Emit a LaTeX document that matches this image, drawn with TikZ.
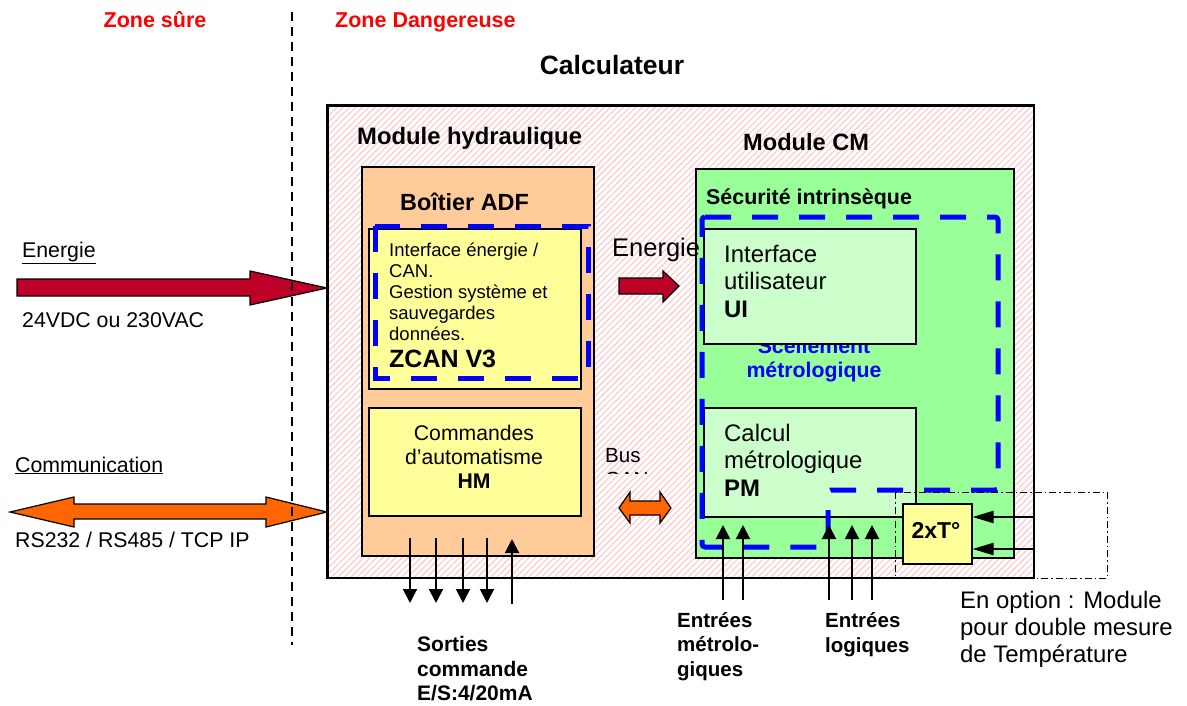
\documentclass[tikz,border=0pt]{standalone}
\usepackage{fontspec}
\setmainfont{Liberation Sans}
\usetikzlibrary{arrows.meta,patterns.meta}
\definecolor{zred}{RGB}{255,0,0}
\definecolor{adf}{RGB}{255,204,153}
\definecolor{ylw}{RGB}{255,255,153}
\definecolor{grn}{RGB}{153,255,153}
\definecolor{lgrn}{RGB}{204,255,204}
\definecolor{blu}{RGB}{0,0,255}
\definecolor{dred}{RGB}{190,0,40}
\definecolor{orng}{RGB}{255,102,0}
\definecolor{hatch}{RGB}{255,200,200}
\newcommand\fsz[1]{\fontsize{#1}{#1}\selectfont}
\begin{document}
\begin{tikzpicture}[x=1pt,y=-1pt,
  txt/.style={inner sep=0pt,anchor=base west},
  ctxt/.style={inner sep=0pt,anchor=base},
  box/.style={draw=black,line width=1.5pt,inner sep=0pt,anchor=north west},
  seal/.style={draw=blu,line width=5pt,dash pattern=on 26pt off 21pt},
  blockarrow/.style={draw=black,line width=1.2pt,line join=miter},
  arr/.style={line width=2pt,-{Triangle[length=14pt,width=14pt]}},
  tarr/.style={line width=2pt,-{Triangle[length=21pt,width=12pt]}},
]
\useasboundingbox (0,0) rectangle (1187,705);
\fill[white] (0,0) rectangle (1187,705);

% zone labels
\node[ctxt,font=\fsz{21.5}\bfseries,text=zred] (zs) at (155,27) {Zone sûre};
\node[txt,font=\fsz{21.5}\bfseries,text=zred] (zd) at (335,27) {Zone Dangereuse};
\node[ctxt,font=\fsz{26.5}\bfseries] (ct) at (612,74) {Calculateur};

% calculateur box
\node[box,line width=2pt,pattern={Lines[angle=45,distance=4.5pt,line width=1.1pt]},pattern color=hatch,
      minimum width=706pt,minimum height=472pt] (calc) at (327,105) {};
\draw[line width=2pt] (calc.north west) rectangle (calc.south east);

\node[txt,font=\fsz{23.8}\bfseries] (mh) at (357,144) {Module hydraulique};
\node[txt,font=\fsz{23.6}\bfseries] (mcm) at (743,150) {Module CM};

% ADF
\node[box,fill=adf,minimum width=232pt,minimum height=389pt] (adfbox) at (361,166) {};
\node[txt,font=\fsz{23.4}\bfseries] (adft) at (400,210) {Boîtier ADF};
\node[box,fill=ylw,minimum width=212pt,minimum height=160pt] (zcan) at (368,228) {};
\node[txt,font=\fsz{18.5}] (z1) at (389,256) {Interface énergie /};
\node[txt,font=\fsz{18.5}] (z2) at (389,277) {CAN.};
\node[txt,font=\fsz{18.5}] (z3) at (389,298) {Gestion système et};
\node[txt,font=\fsz{18.5}] (z4) at (389,319) {sauvegardes};
\node[txt,font=\fsz{18.5}] (z5) at (389,340) {données.};
\node[txt,font=\fsz{25}\bfseries] (z6) at (389,367) {ZCAN V3};
\draw[seal] (375,226) rectangle (588,378);

\node[box,fill=ylw,minimum width=212pt,minimum height=108pt] (hm) at (368,407) {};
\node[ctxt,font=\fsz{21.2}] (h1) at (474,440) {Commandes};
\node[ctxt,font=\fsz{21.2}] (h2) at (474,464) {d’automatisme};
\node[ctxt,font=\fsz{21.2}\bfseries] (h3) at (474,488) {HM};

% CM
\node[box,fill=grn,minimum width=318pt,minimum height=389pt] (cm) at (695,168) {};
\node[txt,font=\fsz{21.4}\bfseries] (si) at (706,204) {Sécurité intrinsèque};
\node[ctxt,font=\fsz{21.3}\bfseries,text=blu] (sc1) at (814,353) {Scellement};
\node[ctxt,font=\fsz{21.3}\bfseries,text=blu] (sc2) at (814,377) {métrologique};
\node[box,fill=lgrn,minimum width=212pt,minimum height=115pt] (ui) at (703,228) {};
\node[txt,font=\fsz{23.9}] (u1) at (724,262) {Interface};
\node[txt,font=\fsz{23.9}] (u2) at (724,289) {utilisateur};
\node[txt,font=\fsz{23.9}\bfseries] (u3) at (724,317) {UI};
\node[box,fill=lgrn,minimum width=212pt,minimum height=109pt] (pm) at (703,407) {};
\node[txt,font=\fsz{23.9}] (p1) at (724,441) {Calcul};
\node[txt,font=\fsz{23.9}] (p2) at (724,468) {métrologique};
\node[txt,font=\fsz{23.9}\bfseries] (p3) at (724,496) {PM};
\draw[seal,rounded corners=3pt] (702,217) -- (998,217) -- (998,490) -- (828,490) -- (828,547) -- (702,547) -- cycle;

% option temperature
\draw[line width=1pt,dash pattern=on 7pt off 3pt on 1.5pt off 3pt] (895,492) rectangle (1107,578);
\node[box,fill=ylw,minimum width=69pt,minimum height=60pt] (tt) at (902,503) {};
\node[ctxt,font=\fsz{23}\bfseries] (ttl) at (936,538) {2xT°};
\coordinate (ta) at (1035,517);
\coordinate (tb) at (1035,549);
\draw[tarr] (ta) -- (tt.east |- ta);
\draw[tarr] (tb) -- (tt.east |- tb);
\node[txt,font=\fsz{23.9}] (o1) at (960,608) {En option : Module};
\node[txt,font=\fsz{23.9}] (o2) at (960,635) {pour double mesure};
\node[txt,font=\fsz{23.9}] (o3) at (960,662) {de Température};

% middle energy arrow
\node[txt,font=\fsz{25.5}] (en2) at (612,256) {Energie};
\draw[blockarrow,fill=dred] (619,278) -- (663,278) -- (663,271) -- (679,286) -- (663,302) -- (663,294) -- (619,294) -- cycle;

% bus CAN
\begin{scope}
\clip (595,430) rectangle (665,473);
\node[txt,font=\fsz{20.5}] (bus) at (605,462) {Bus};
\node[txt,font=\fsz{20.5}] (can) at (605,486) {CAN};
\end{scope}
\draw[blockarrow,fill=orng] (619,508) -- (630,492) -- (630,501) -- (660,501) -- (660,492) -- (671,508) -- (660,523) -- (660,515) -- (630,515) -- (630,523) -- cycle;

% left side
\node[txt,font=\fsz{21.3}] (en1) at (22,257) {\underline{Energie}};
\node[txt,font=\fsz{21.3}] (v1) at (22,327) {24VDC ou 230VAC};
\draw[blockarrow,fill=dred] (17,279) -- (250,279) -- (250,271) -- (327,288) -- (250,305) -- (250,296) -- (17,296) -- cycle;
\node[txt,font=\fsz{21.3}] (com) at (15,472) {\underline{Communication}};
\node[txt,font=\fsz{21.3}] (rs) at (15,547) {RS232 / RS485 / TCP IP};
\draw[blockarrow,fill=orng] (10,512) -- (74,497) -- (74,504) -- (266,504) -- (266,497) -- (327,512) -- (266,527) -- (266,519) -- (74,519) -- (74,527) -- cycle;

% zone separator
\draw[line width=1.5pt,dash pattern=on 9pt off 6pt] (292,12) -- (292,645);

% outputs ADF
\foreach \x in {410,436,463,487} {\draw[arr] (\x,538) -- (\x,603);}
\draw[arr] (512,604) -- (512,539);
\node[txt,font=\fsz{21}\bfseries] (s1) at (417,651) {Sorties};
\node[txt,font=\fsz{21}\bfseries] (s2) at (417,676) {commande};
\node[txt,font=\fsz{21}\bfseries] (s3) at (417,700) {E/S:4/20mA};

% inputs CM
\foreach \x in {723,743,829,852,872} {\draw[arr] (\x,600) -- (\x,525);}
\node[txt,font=\fsz{20.5}\bfseries] (m1) at (677,627) {Entrées};
\node[txt,font=\fsz{20.5}\bfseries] (m2) at (677,651) {métrolo-};
\node[txt,font=\fsz{20.5}\bfseries] (m3) at (677,676) {giques};
\node[txt,font=\fsz{20.5}\bfseries] (l1) at (825,627) {Entrées};
\node[txt,font=\fsz{20.5}\bfseries] (l2) at (825,652) {logiques};
\end{tikzpicture}
\end{document}
